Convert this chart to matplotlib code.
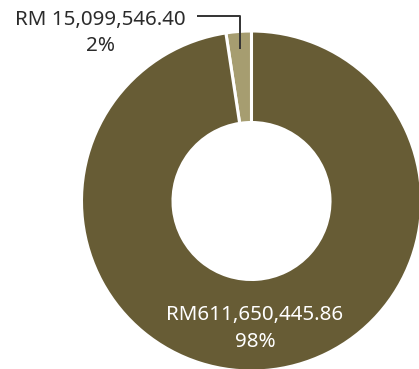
import numpy as np
import matplotlib.pyplot as plt

# ---------------- DATA ----------------
labels = ["RM 15,099,546.40", "RM611,650,445.86"]
amounts = [15099546.40, 611650445.86]
pct_labels = ["2%", "98%"]
colors = ["#a69d70", "#675c35"]

# ---------------- LAYOUT (pixels) ----------------
W, H = 419, 369
CX, CY = 251.5, H - 201
R_OUT, R_IN = 170, 78.5

fig = plt.figure(figsize=(W / 100, H / 100), dpi=100)
ax = fig.add_axes([0, 0, 1, 1])

wedges, _ = ax.pie(
    amounts, colors=colors, startangle=90, counterclock=True,
    center=(CX, CY), radius=R_OUT, frame=True,
    wedgeprops=dict(width=R_OUT - R_IN, edgecolor="white", linewidth=2.2),
)
ax.set_xlim(0, W)
ax.set_ylim(0, H)
ax.set_aspect("equal")
ax.axis("off")

font = dict(family="Noto Sans", fontsize=14.8)

# small slice: leader line from the middle of the wedge up to the label
w = wedges[0]
mid = np.deg2rad((w.theta1 + w.theta2) / 2)
px = CX + 152 * np.cos(mid)
py = CY + 152 * np.sin(mid)
ly = H - 16
ax.plot([px, px, 197], [py, ly, ly], color="#333333", lw=1.4,
        solid_capstyle="butt")
ax.text(100.5, H - 20, labels[0], ha="center", va="center", color="#2b2b2b", **font)
ax.text(100.5, H - 46, pct_labels[0], ha="center", va="center", color="#2b2b2b", **font)

# big slice: label inside the ring near the bottom
ax.text(255, H - 315, labels[1], ha="center", va="center", color="white", **font)
ax.text(255, H - 342, pct_labels[1], ha="center", va="center", color="white", **font)

fig.savefig("out.png", dpi=100)
